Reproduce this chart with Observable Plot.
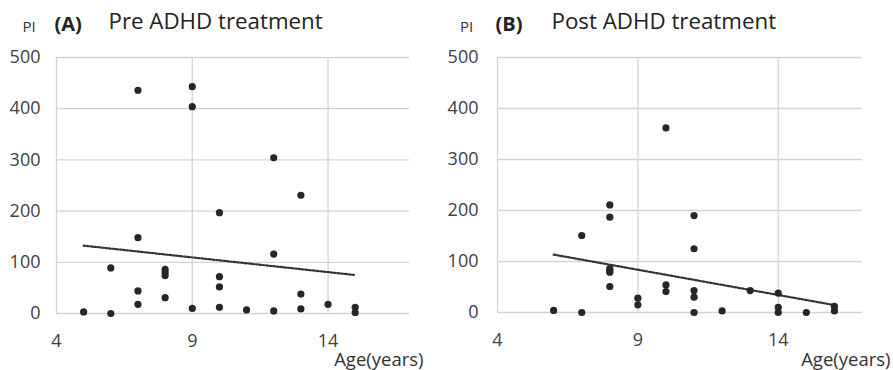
<!DOCTYPE html>
<html><head><meta charset="utf-8">
<script src="https://cdn.jsdelivr.net/npm/d3@7"></script>
<script src="https://cdn.jsdelivr.net/npm/@observablehq/plot@0.6"></script>
<style>
body{margin:0;background:#fff;}
#wrap{position:relative;width:893px;height:370px;overflow:hidden;background:#fff;}
#wrap svg{position:absolute;top:0;}
</style></head><body><div id="wrap"></div>
<script>
// Panel A: Pre ADHD treatment
const ageA = [5,6,6,7,7,7,7,8,8,8,8,9,9,9,10,10,10,10,11,12,12,12,13,13,13,14,15,15];
const piA  = [3,89,0,436,148,44,18,86,80,74,31,443,404,10,197,72,52,12,7,304,116,5,231,38,9,18,12,2];
// Panel B: Post ADHD treatment
const ageB = [6,7,7,8,8,8,8,8,8,9,9,10,10,10,11,11,11,11,11,12,13,14,14,14,15,16,16];
const piB  = [4,151,0,211,187,86,82,79,51,28,15,362,54,41,190,125,43,30,0,3,43,38,10,0,0,12,3];
// Tick labels
const xTicks = [4, 9, 14];
const yTicks = [0, 100, 200, 300, 400, 500];
const titleA = "Pre ADHD treatment", tagA = "(A)";
const titleB = "Post ADHD treatment", tagB = "(B)";
const yName = "PI", xName = "Age(years)";

const FONT = "'Open Sans', sans-serif";

function panel(o) {
  const data = o.ages.map((a, i) => ({age: a, pi: o.pis[i]}));
  const txt = (s, opts) => Plot.text([s], {text: d => d, fontFamily: FONT, ...opts});
  const svg = Plot.plot({
    width: o.width, height: 370,
    marginLeft: o.ml, marginRight: o.mr, marginTop: 57, marginBottom: o.mb,
    style: {fontFamily: FONT, fontSize: "18px", color: "#404040", background: "transparent", overflow: "visible"},
    x: {domain: [4, 17], label: null},
    y: {domain: [0, 500], label: null},
    marks: [
      Plot.gridX(xTicks, {stroke: "#d4d4d4", strokeOpacity: 1, strokeWidth: 1.3}),
      Plot.gridY(yTicks, {stroke: "#d4d4d4", strokeOpacity: 1, strokeWidth: 1.3}),
      Plot.axisX(xTicks, {tickSize: 0, tickPadding: 21, fontSize: 18, fill: "#404040", tickFormat: d => String(d)}),
      Plot.axisY(yTicks, {tickSize: 0, tickPadding: o.yPad, fontSize: 18, fill: "#404040", tickFormat: d => String(d)}),
      Plot.linearRegressionY(data, {x: "age", y: "pi", ci: 0, stroke: "#333", strokeWidth: 2.2, strokeDasharray: "1.8,1.8"}),
      Plot.dot(data, {x: "age", y: "pi", r: 3.6, fill: "#262626", stroke: "none"}),
      txt(yName, {frameAnchor: "top-left", textAnchor: "start", lineAnchor: "bottom", dx: o.piDx, dy: -25.5, fontSize: 15, fill: "#333"}),
      txt(o.tag, {frameAnchor: "top-left", textAnchor: "start", lineAnchor: "bottom", dx: o.tagDx, dy: -27, fontSize: 20, fontWeight: "bold", fill: "#222"}),
      txt(o.title, {frameAnchor: "top-left", textAnchor: "start", lineAnchor: "bottom", dx: o.titleDx, dy: -28.5, fontSize: 22.3, fill: "#222"}),
      txt(xName, {frameAnchor: "bottom-right", textAnchor: "end", lineAnchor: "bottom", dx: o.ageDx, dy: o.ageDy, fontSize: 18.5, fill: "#333"})
    ]
  });
  svg.style.left = o.left + "px";
  return svg;
}

const wrap = document.getElementById("wrap");
wrap.appendChild(panel({ages: ageA, pis: piA, tag: tagA, title: titleA, left: 0, width: 446,
  ml: 56, mr: 37, mb: 57, yPad: 16, piDx: -34, tagDx: -2, titleDx: 52, ageDx: 14, ageDy: 52.5}));
wrap.appendChild(panel({ages: ageB, pis: piB, tag: tagB, title: titleB, left: 443, width: 450,
  ml: 54, mr: 31, mb: 58, yPad: 19, piDx: -37.5, tagDx: -2, titleDx: 54, ageDx: 28, ageDy: 53.5}));
</script></body></html>
